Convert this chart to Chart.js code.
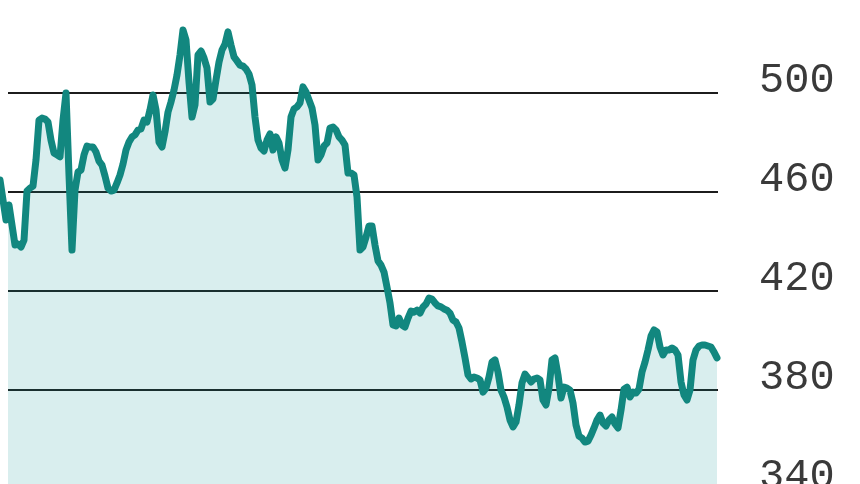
<!DOCTYPE html>
<html>
<head>
<meta charset="utf-8">
<script src="https://cdn.jsdelivr.net/npm/chart.js@4.4.1/dist/chart.umd.min.js"></script>
<style>
  html, body { margin: 0; padding: 0; background: #fff; overflow: hidden; }
  #wrap { width: 860px; height: 500px; }
</style>
</head>
<body>
<div id="wrap"><canvas id="myChart" width="860" height="500"></canvas></div>
<script>
// price series, one value per trading day
const prices = [
  465.0, 456.9, 448.8, 454.9, 446.8, 438.7, 439.1, 437.9, 440.7, 460.5,
  461.7, 462.5, 473.1, 489.2, 490.0, 489.6, 488.4, 481.1, 475.9, 475.1,
  474.3, 489.2, 500.1, 467.0, 436.7, 460.9, 468.2, 469.0, 475.1, 478.7,
  478.3, 478.3, 476.3, 472.6, 471.0, 466.6, 461.7, 460.5, 460.9, 463.8,
  467.0, 471.4, 477.1, 480.3, 482.4, 483.2, 485.2, 485.6, 489.2, 488.4,
  493.3, 499.3, 493.3, 480.3, 478.3, 484.4, 492.4, 496.5, 501.3, 507.4,
  515.5, 525.6, 521.5, 504.6, 490.4, 495.3, 515.5, 517.1, 514.3, 510.2,
  496.5, 497.7, 505.4, 512.6, 517.5, 519.9, 524.8, 519.5, 514.7, 513.1,
  511.4, 511.0, 509.8, 507.8, 503.4, 490.4, 481.1, 477.9, 476.7, 481.1,
  483.6, 477.1, 482.4, 479.9, 473.1, 469.8, 477.1, 490.4, 493.7, 494.5,
  496.1, 502.6, 500.5, 497.3, 494.1, 487.2, 473.1, 475.1, 478.7, 479.9,
  486.0, 486.4, 485.2, 482.4, 481.1, 479.1, 467.8, 467.8, 467.0, 458.1,
  436.7, 437.9, 441.9, 446.4, 446.4, 438.7, 432.3, 430.6, 427.8, 421.7,
  415.3, 406.4, 406.0, 409.2, 406.4, 405.6, 409.2, 412.0, 411.6, 412.4,
  411.2, 413.7, 414.9, 417.3, 416.9, 415.3, 414.1, 413.7, 412.9, 412.4,
  411.2, 408.4, 407.6, 405.2, 399.5, 393.1, 386.2, 384.6, 385.4, 385.0,
  384.2, 379.3, 380.9, 385.4, 391.4, 392.3, 387.4, 380.1, 377.3, 373.3,
  368.0, 365.2, 367.2, 374.1, 383.0, 386.6, 385.0, 383.4, 384.6, 385.0,
  384.2, 376.1, 374.1, 380.9, 392.3, 393.1, 386.2, 376.9, 381.3, 380.9,
  380.1, 374.9, 366.0, 361.5, 360.7, 359.1, 359.5, 361.9, 364.8, 368.0,
  370.0, 366.8, 365.6, 368.0, 369.2, 366.4, 364.8, 372.0, 380.5, 381.3,
  377.3, 379.3, 378.9, 380.5, 387.4, 391.4, 396.3, 401.9, 404.4, 403.6,
  397.5, 394.3, 396.3, 396.3, 397.1, 396.3, 394.3, 383.4, 378.1, 376.1,
  380.1, 392.3, 396.3, 397.9, 398.3, 398.3, 397.9, 397.5, 395.5, 393.1
];
const days = prices.map((p, i) => i);
const tickValues = [340, 380, 420, 460, 500];

const yMin = 335.7;
const yMax = 537.7;

const chartArea = document.getElementById('myChart').getContext('2d');

const myChart = new Chart(chartArea, {
  type: 'line',
  data: {
    labels: days,
    datasets: [{
      data: prices,
      borderColor: '#12877f',
      borderWidth: 7,
      borderJoinStyle: 'round',
      borderCapStyle: 'round',
      backgroundColor: 'rgba(20, 150, 150, 0.16)',
      fill: 'start',
      pointRadius: 0,
      tension: 0,
      clip: false
    }]
  },
  options: {
    responsive: false,
    animation: false,
    events: [],
    // gridlines begin 8px in, the line itself starts at the very edge
    layout: { padding: { left: 8, top: 0, right: 0, bottom: 0 } },
    plugins: {
      legend: { display: false },
      tooltip: { enabled: false }
    },
    scales: {
      x: {
        type: 'linear',
        display: false,
        bounds: 'data',
        // set the range here (not via min/max) so the first days are still drawn
        afterDataLimits: (scale) => {
          scale.min = 2.667;
          scale.max = days.length - 1 + 0.333;
        }
      },
      y: {
        position: 'right',
        min: yMin,
        max: yMax,
        border: { display: false },
        grid: {
          color: '#1c1c1c',
          lineWidth: 2,
          drawTicks: false
        },
        ticks: {
          padding: 41,
          labelOffset: -12,
          color: '#3a3a3a',
          font: { family: '"Liberation Mono", monospace', size: 42 }
        },
        afterBuildTicks: (scale) => {
          scale.ticks = tickValues.map(v => ({ value: v }));
        },
        afterFit: (scale) => {
          scale.width = 142;
          scale.paddingTop = 0;
          scale.paddingBottom = 0;
        }
      }
    }
  }
});
</script>
</body>
</html>
